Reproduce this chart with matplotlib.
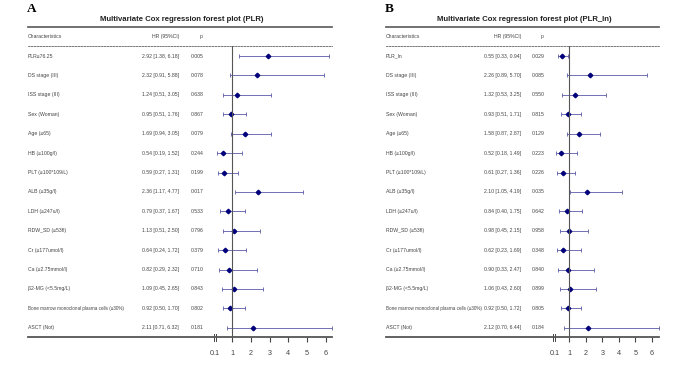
import matplotlib
matplotlib.use("Agg")
import matplotlib.pyplot as plt
from matplotlib.transforms import blended_transform_factory

plt.rcParams['font.family'] = ['Liberation Sans', 'DejaVu Sans']

labels = [
    "PLR≥76.25", "DS stage (III)", "ISS stage (III)", "Sex (Woman)", "Age (≥65)",
    "HB (≥100g/l)", "PLT (≥100*109/L)", "ALB (≥35g/l)", "LDH (≥247u/l)",
    "RDW_SD (≥53fl)", "Cr (≥177umol/l)", "Ca (≥2.75mmol/l)", "β2-MG (<5.5mg/L)",
    "Bone marrow monoclonal plasma cells (≥30%)", "ASCT (Not)",
]
labels_b = ["PLR_ln"] + labels[1:]

hr_a = [2.92, 2.32, 1.24, 0.95, 1.69, 0.54, 0.59, 2.36, 0.79, 1.13, 0.64, 0.82, 1.09, 0.92, 2.11]
lo_a = [1.38, 0.91, 0.51, 0.51, 0.94, 0.19, 0.27, 1.17, 0.37, 0.51, 0.24, 0.29, 0.45, 0.50, 0.71]
hi_a = [6.18, 5.88, 3.05, 1.76, 3.05, 1.52, 1.31, 4.77, 1.67, 2.50, 1.72, 2.32, 2.65, 1.70, 6.32]
p_a = ["0.005", "0.078", "0.638", "0.867", "0.079", "0.244", "0.199", "0.017", "0.533",
       "0.796", "0.379", "0.710", "0.843", "0.802", "0.181"]

hr_b = [0.55, 2.26, 1.32, 0.93, 1.58, 0.52, 0.61, 2.10, 0.84, 0.98, 0.62, 0.90, 1.06, 0.92, 2.12]
lo_b = [0.33, 0.89, 0.53, 0.51, 0.87, 0.18, 0.27, 1.05, 0.40, 0.45, 0.23, 0.33, 0.43, 0.50, 0.70]
hi_b = [0.94, 5.70, 3.25, 1.71, 2.87, 1.49, 1.36, 4.19, 1.75, 2.15, 1.69, 2.47, 2.60, 1.72, 6.44]
p_b = ["0.029", "0.085", "0.550", "0.815", "0.129", "0.223", "0.226", "0.035", "0.642",
       "0.958", "0.348", "0.840", "0.899", "0.805", "0.184"]

xticks = [0.1, 1, 2, 3, 4, 5, 6]
xticklabels = ["0.1", "1", "2", "3", "4", "5", "6"]

W, H = 685, 373
fig = plt.figure(figsize=(W / 100, H / 100), dpi=100)

txt_c = "#444444"
line_c = "#555555"
ci_c = "#5a5aa8"
pt_c = "#00007a"
fs = 3.7


def forest(left_px, right_px, one_px, unit_px, letter, title, names, hr, lo, hi, pv,
           hr_right_px, p_left_px):
    top_px, bot_px = 46, 337.3
    ax = fig.add_axes([left_px / W, 1 - bot_px / H, (right_px - left_px) / W, (bot_px - top_px) / H])
    xmin = 1 - (one_px - left_px) / unit_px
    xmax = 1 + (right_px - one_px) / unit_px
    ax.set_xlim(xmin, xmax)
    ax.set_ylim(14.49, -0.52)
    trans = blended_transform_factory(ax.transAxes, ax.transData)
    fx = lambda px: (px - left_px) / (right_px - left_px)

    for i in range(len(names)):
        # the long label is squeezed a bit so it clears the HR column
        lab_fs = fs if len(names[i]) < 30 else 3.35
        ax.text(0, i, names[i], transform=trans, ha="left", va="center", fontsize=lab_fs, color=txt_c)
        ax.text(fx(hr_right_px), i, f"{hr[i]:.2f} [{lo[i]:.2f}, {hi[i]:.2f}]", transform=trans,
                ha="right", va="center", fontsize=fs, color=txt_c)
        ax.text(fx(p_left_px), i, pv[i], transform=trans, ha="left", va="center",
                fontsize=fs, color=txt_c)
        ax.errorbar(hr[i], i, xerr=[[hr[i] - lo[i]], [hi[i] - hr[i]]], fmt="none",
                    ecolor=ci_c, elinewidth=0.6, capsize=1.6, capthick=0.6, clip_on=False)
        ax.plot(hr[i], i, marker="D", ms=2.3, color=pt_c, clip_on=False)

    # header
    ax.text(0, -1, "Characteristics", transform=trans, ha="left", va="center", fontsize=fs, color=txt_c)
    ax.text(fx(hr_right_px), -1, "HR (95%CI)", transform=trans, ha="right", va="center",
            fontsize=fs, color=txt_c)
    ax.text(fx(p_left_px + 10), -1, "p", transform=trans, ha="center", va="center",
            fontsize=fs, color=txt_c)
    ax.axhline(-1.49, color="#666666", lw=1.3, clip_on=False)

    ax.text(fx((left_px + right_px) / 2 + 2), -1.9, title, transform=trans, ha="center",
            va="center", fontsize=5.6, fontweight="bold", color="#222222",
            family=["Liberation Sans Narrow", "Liberation Sans", "DejaVu Sans"])
    ax.text(fx(left_px - 1), -2.45, letter, transform=trans, ha="left", va="center",
            fontsize=9.5, fontweight="bold", family=["Liberation Serif", "DejaVu Serif"])

    ax.axvline(1, color=line_c, lw=0.8)

    for s in ["left", "right"]:
        ax.spines[s].set_visible(False)
    ax.spines["top"].set_linestyle((0, (2, 1.5)))
    ax.spines["top"].set_linewidth(0.6)
    ax.spines["top"].set_color("#666666")
    ax.spines["bottom"].set_linewidth(1.3)
    ax.spines["bottom"].set_color("#555555")
    ax.set_yticks([])
    ax.set_xticks(xticks)
    ax.set_xticklabels(xticklabels)
    ax.tick_params(axis="x", length=3.5, width=0.8, color="#444444", labelsize=5.2,
                   labelcolor=txt_c, pad=6)
    ax.xaxis.get_major_ticks()[0].tick1line.set_visible(False)
    # axis break mark at 0.1
    for dx in (-0.06, 0.06):
        ax.plot([0.1 + dx, 0.1 + dx], [14.33, 14.68], color="#444444", lw=0.7, clip_on=False)
    return ax


forest(28, 332, 232, 18.8, "A", "Multivariate Cox regression forest plot (PLR)",
       labels, hr_a, lo_a, hi_a, p_a, 179, 191)
forest(385.7, 659, 569.3, 16.5, "B", "Multivariate Cox regression forest plot (PLR_ln)",
       labels_b, hr_b, lo_b, hi_b, p_b, 521, 532)

fig.savefig("out.png", dpi=100)
